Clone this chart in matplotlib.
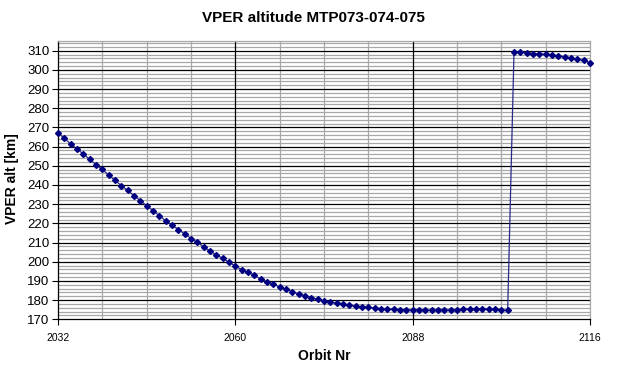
from matplotlib import pyplot as plt
from matplotlib.ticker import MultipleLocator, FixedLocator

plt.rcParams['font.family'] = ['Liberation Sans', 'DejaVu Sans']

# orbit numbers and VPER altitude [km]
orbits = [2032, 2033, 2034, 2035, 2036, 2037, 2038, 2039, 2040, 2041,
          2042, 2043, 2044, 2045, 2046, 2047, 2048, 2049, 2050, 2051,
          2052, 2053, 2054, 2055, 2056, 2057, 2058, 2059, 2060, 2061,
          2062, 2063, 2064, 2065, 2066, 2067, 2068, 2069, 2070, 2071,
          2072, 2073, 2074, 2075, 2076, 2077, 2078, 2079, 2080, 2081,
          2082, 2083, 2084, 2085, 2086, 2087, 2088, 2089, 2090, 2091,
          2092, 2093, 2094, 2095, 2096, 2097, 2098, 2099, 2100, 2101,
          2102, 2103,
          2104, 2105, 2106, 2107, 2108, 2109, 2110, 2111, 2112, 2113,
          2114, 2115, 2116]
vper_alt = [267.0, 264.4, 261.3, 258.9, 256.1, 253.4, 250.6, 248.1, 245.2, 242.4,
            239.7, 237.2, 234.4, 231.8, 229.2, 226.6, 224.0, 221.4, 219.0, 216.8,
            214.5, 212.1, 210.1, 207.8, 205.6, 203.6, 201.8, 199.7, 197.8, 195.9,
            194.4, 192.9, 191.0, 189.6, 188.3, 186.8, 185.7, 184.4, 183.2, 182.3,
            181.3, 180.4, 179.6, 178.9, 178.4, 177.8, 177.3, 176.8, 176.5, 176.2,
            175.9, 175.6, 175.4, 175.2, 175.1, 175.0, 174.9, 174.8, 174.8, 174.8,
            174.8, 174.8, 174.9, 174.9, 175.4, 175.5, 175.6, 175.5, 175.4, 175.3,
            174.8, 174.7,
            309.2, 309.2, 309.0, 308.5, 308.3, 308.1, 307.7, 307.3, 306.8, 306.2,
            305.5, 304.9, 303.8]
x_major = [2032, 2060, 2088, 2116]
x_minor = [2039, 2046, 2053, 2067, 2074, 2081, 2095, 2102, 2109]

fig = plt.figure(figsize=(6.25, 3.69), dpi=100)
ax = fig.add_axes([58 / 625, 1 - 319.3 / 369, 532 / 625, (319.3 - 41.1) / 369])

ax.set_xlim(2032, 2116)
ax.set_ylim(170, 315)

ax.xaxis.set_major_locator(FixedLocator(x_major))
ax.xaxis.set_minor_locator(FixedLocator(x_minor))
ax.yaxis.set_major_locator(MultipleLocator(10))
ax.yaxis.set_minor_locator(MultipleLocator(2))

# gray minor grid first, black major lines on top of it
ax.grid(which='minor', color='#a8a8a8', linewidth=0.9)
ax.set_axisbelow(True)
for x in x_major[1:-1]:
    ax.axvline(x, color='black', linewidth=0.9, zorder=1)
for y in ax.get_yticks():
    if 170 < y <= 315:
        ax.axhline(y, color='black', linewidth=0.9, zorder=1)

for side in ('top', 'right'):
    ax.spines[side].set_color('#a8a8a8')
    ax.spines[side].set_linewidth(0.9)
for side in ('left', 'bottom'):
    ax.spines[side].set_linewidth(0.9)

ax.tick_params(axis='y', which='major', direction='out', length=4, labelsize=9.5, pad=2)
ax.tick_params(axis='y', which='minor', length=0)
ax.tick_params(axis='x', which='major', direction='out', length=4, labelsize=7.5, pad=6)
ax.tick_params(axis='x', which='minor', length=0)

ax.plot(orbits, vper_alt, color='#2a2a88', linewidth=0.9, marker='D', markersize=3.0,
        markerfacecolor='#000080', markeredgecolor='#000080', clip_on=False, zorder=3)

fig.text(313 / 625, 1 - 18 / 369, 'VPER altitude MTP073-074-075', ha='center', va='center',
         fontsize=11, fontweight='bold')
fig.text(324 / 625, 1 - 356 / 369, 'Orbit Nr', ha='center', va='center',
         fontsize=10, fontweight='bold')
fig.text(12 / 625, 1 - 179 / 369, 'VPER alt [km]', ha='center', va='center',
         rotation=90, fontsize=10, fontweight='bold')

fig.savefig('out.png', dpi=100)
